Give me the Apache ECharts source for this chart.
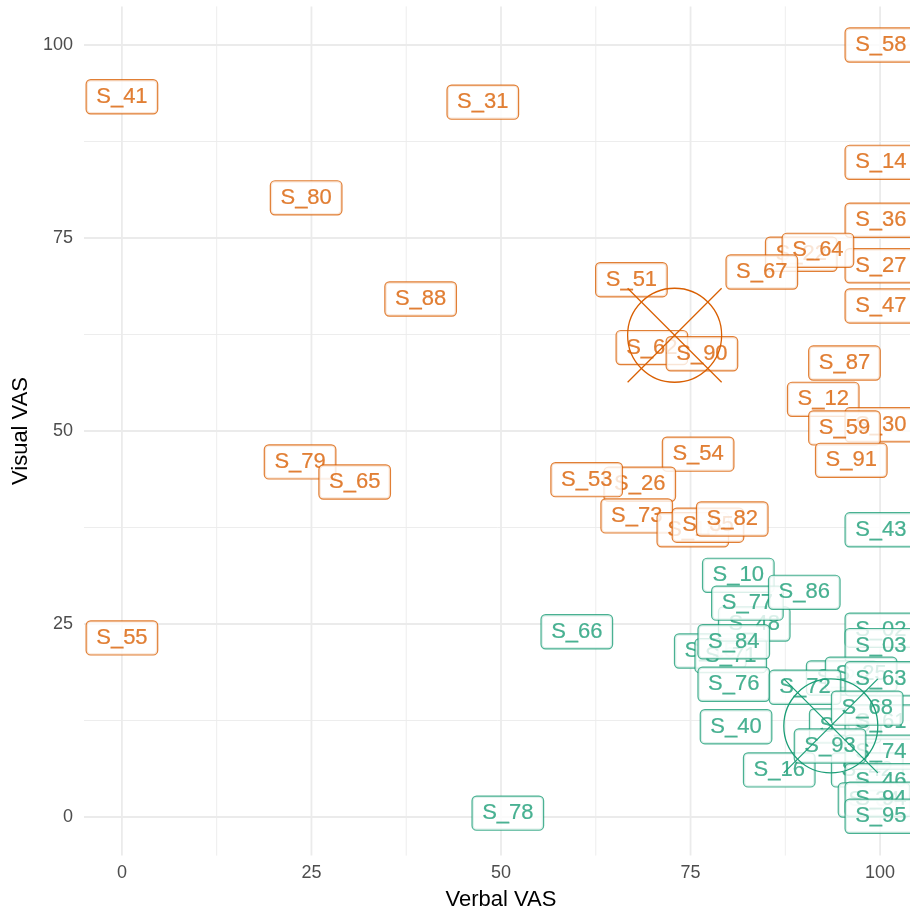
<!DOCTYPE html>
<html>
<head>
<meta charset="utf-8">
<script src="https://cdn.jsdelivr.net/npm/echarts@6/dist/echarts.min.js"></script>
<style>
  html, body { margin: 0; padding: 0; background: #fff; }
  #chart { width: 910px; height: 910px; }
</style>
</head>
<body>
<div id="chart"></div>
<script>
// label positions (Verbal VAS, Visual VAS)
const orangeNames = ['S_41','S_31','S_80','S_88','S_58','S_14','S_36','S_27','S_47','S_22','S_64','S_67',
  'S_51','S_62','S_90','S_87','S_12','S_30','S_59','S_91','S_54','S_26','S_53','S_73','S_18','S_35','S_82',
  'S_79','S_65','S_55']
const orangeX = [0, 47.6, 24.3, 39.4, 100.1, 100.1, 100.1, 100.1, 100.1, 89.6, 91.8, 84.4,
  67.2, 69.9, 76.5, 95.3, 92.5, 100.1, 95.3, 96.2, 76.0, 68.3, 61.3, 67.9, 75.3, 77.3, 80.5,
  23.5, 30.7, 0]
const orangeY = [93.3, 92.6, 80.2, 67.1, 100, 84.8, 77.3, 71.4, 66.2, 72.9, 73.4, 70.6,
  69.6, 60.8, 60.0, 58.8, 54.1, 50.8, 50.4, 46.2, 47.0, 43.1, 43.7, 39.0, 37.2, 37.8, 38.6,
  46.0, 43.4, 23.2]

const greenNames = ['S_43','S_66','S_78','S_15','S_71','S_48','S_10','S_77','S_86','S_84','S_76','S_40',
  'S_02','S_03','S_21','S_25','S_09','S_42','S_72','S_63','S_61','S_68','S_74','S_46','S_16','S_93',
  'S_34','S_94','S_95']
const greenX = [100.1, 60.0, 50.9, 77.6, 80.3, 83.4, 81.3, 82.5, 90.0, 80.7, 80.7, 81.0,
  100.1, 100.1, 95.0, 97.5, 95.4, 98.3, 90.1, 100.1, 100.1, 98.3, 100.1, 100.1, 86.7, 93.4,
  99.2, 100.1, 100.1]
const greenY = [37.2, 24.0, 0.5, 21.5, 20.9, 25.0, 31.3, 27.7, 29.1, 22.7, 17.2, 11.7,
  24.2, 22.2, 18.0, 18.5, 11.8, 6.1, 16.8, 17.9, 12.3, 14.1, 8.4, 4.7, 6.1, 9.2,
  2.2, 2.3, 0.1]

// group centroids
const orangeCentroid = [72.9, 62.4]
const greenCentroid = [93.5, 11.8]

const majorTicks = [0, 25, 50, 75, 100]
const minorTicks = [12.5, 37.5, 62.5, 87.5]

const ORANGE = '#D95F02'
const GREEN = '#1B9E77'
const FONT = '"Liberation Sans", Arial, Helvetica, sans-serif'

function toPoints(names, xs, ys) {
    return names.map((n, i) => ({name: n, value: [xs[i], ys[i]]}))
}

function labelSeries(name, color, names, xs, ys) {
    return {
        name: name,
        type: 'scatter',
        symbolSize: 1,
        itemStyle: {color: 'rgba(0,0,0,0)'},
        data: toPoints(names, xs, ys),
        label: {
            show: true,
            position: 'inside',
            formatter: p => p.name,
            color: color,
            textBorderColor: color,
            textBorderWidth: 0.2,
            fontFamily: FONT,
            fontSize: 22,
            lineHeight: 22,
            backgroundColor: '#fff',
            borderColor: color,
            borderWidth: 1.2,
            borderRadius: 4,
            padding: [6, 9.5, 5, 9.5]
        },
        emphasis: {disabled: true},
        z: 3
    }
}

function gridSeries(values, vertical, width) {
    return {
        type: 'custom',
        silent: true,
        z: 1,
        data: values.map(v => vertical ? [v, 0] : [0, v]),
        renderItem: (params, api) => {
            const cs = params.coordSys
            if (vertical) {
                const x = api.coord([api.value(0), 0])[0]
                return {type: 'line', shape: {x1: x, y1: cs.y, x2: x, y2: cs.y + cs.height},
                    style: {stroke: '#EBEBEB', lineWidth: width}}
            }
            const y = api.coord([0, api.value(1)])[1]
            return {type: 'line', shape: {x1: cs.x, y1: y, x2: cs.x + cs.width, y2: y},
                style: {stroke: '#EBEBEB', lineWidth: width}}
        }
    }
}

function centroidSeries(color, pt) {
    return {
        type: 'custom',
        silent: true,
        z: 10,
        data: [pt],
        renderItem: (params, api) => {
            const c = api.coord([api.value(0), api.value(1)])
            const r = 47
            const st = {stroke: color, fill: null, lineWidth: 1.3}
            return {
                type: 'group',
                children: [
                    {type: 'circle', shape: {cx: c[0], cy: c[1], r: r}, style: st},
                    {type: 'line', shape: {x1: c[0] - r, y1: c[1] - r, x2: c[0] + r, y2: c[1] + r}, style: st},
                    {type: 'line', shape: {x1: c[0] - r, y1: c[1] + r, x2: c[0] + r, y2: c[1] - r}, style: st}
                ]
            }
        }
    }
}

const myChart = echarts.init(document.getElementById('chart'))
myChart.setOption({
    animation: false,
    backgroundColor: '#fff',
    grid: {left: 84, top: 6.4, width: 834, height: 849.2, containLabel: false, outerBoundsMode: 'none'},
    xAxis: {
        type: 'value', min: -5, max: 105,
        name: 'Verbal VAS', nameLocation: 'middle', nameGap: 33,
        nameTextStyle: {color: '#000', fontSize: 22, fontFamily: FONT},
        axisLine: {show: false}, axisTick: {show: false}, splitLine: {show: false},
        axisLabel: {customValues: majorTicks, color: '#4D4D4D', fontSize: 18, fontFamily: FONT, margin: 8}
    },
    yAxis: {
        type: 'value', min: -5, max: 105,
        name: 'Visual VAS', nameLocation: 'middle', nameGap: 47,
        nameTextStyle: {color: '#000', fontSize: 22, fontFamily: FONT},
        axisLine: {show: false}, axisTick: {show: false}, splitLine: {show: false},
        axisLabel: {customValues: majorTicks, color: '#4D4D4D', fontSize: 18, fontFamily: FONT, margin: 11}
    },
    series: [
        gridSeries(minorTicks, true, 0.9),
        gridSeries(minorTicks, false, 0.9),
        gridSeries(majorTicks, true, 1.8),
        gridSeries(majorTicks, false, 1.8),
        labelSeries('orange', ORANGE, orangeNames, orangeX, orangeY),
        labelSeries('green', GREEN, greenNames, greenX, greenY),
        centroidSeries(ORANGE, orangeCentroid),
        centroidSeries(GREEN, greenCentroid)
    ]
})
</script>
</body>
</html>
